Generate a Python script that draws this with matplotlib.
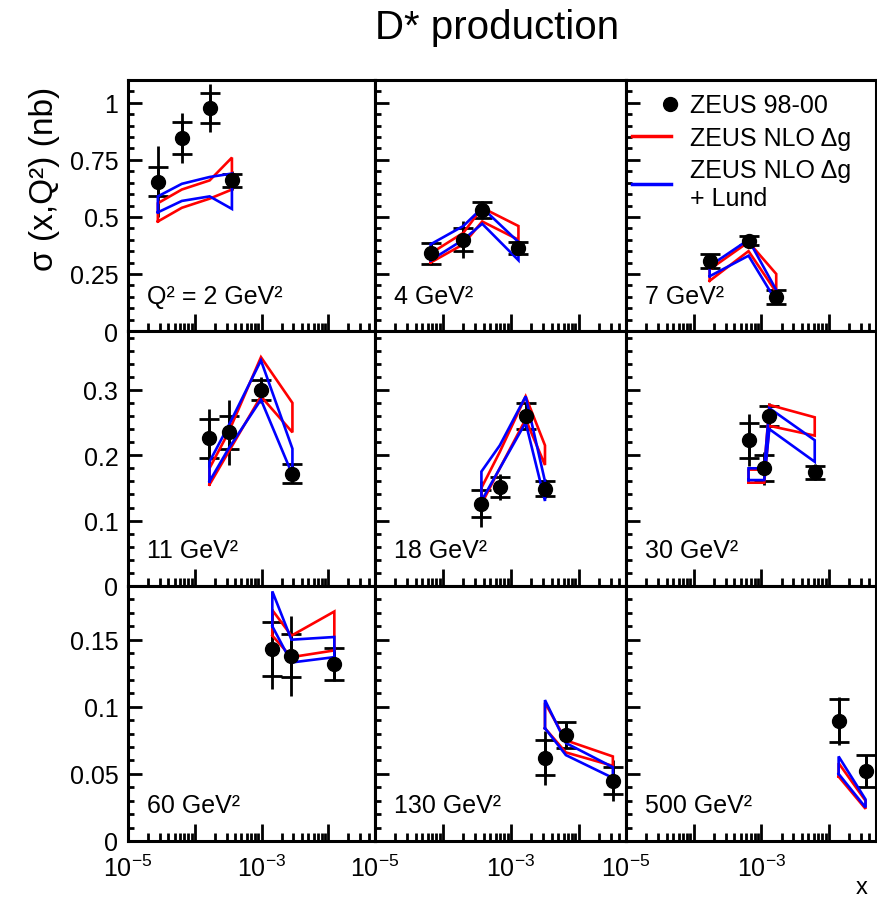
import matplotlib.pyplot as plt
from matplotlib.ticker import FixedLocator, MultipleLocator, FuncFormatter, NullFormatter
from matplotlib.lines import Line2D
from matplotlib.markers import MarkerStyle
from matplotlib.transforms import Affine2D

plt.rcParams['font.family'] = ['Liberation Sans', 'DejaVu Sans']
plt.rcParams['mathtext.fontset'] = 'custom'
plt.rcParams['mathtext.rm'] = 'Liberation Sans'
plt.rcParams['mathtext.it'] = 'Liberation Sans:italic'

# one entry per Q^2 bin
q2_labels = ['Q² = 2 GeV²', '4 GeV²', '7 GeV²',
             '11 GeV²', '18 GeV²', '30 GeV²',
             '60 GeV²', '130 GeV²', '500 GeV²']

x_vals = [[2.8e-5, 6.4e-5, 1.67e-4, 3.6e-4],
          [6.6e-5, 2.0e-4, 3.8e-4, 1.3e-3],
          [1.73e-4, 6.5e-4, 1.67e-3],
          [1.66e-4, 3.2e-4, 9.8e-4, 2.9e-3],
          [3.7e-4, 6.9e-4, 1.66e-3, 3.2e-3],
          [6.5e-4, 1.11e-3, 1.32e-3, 6.2e-3],
          [1.45e-3, 2.8e-3, 1.23e-2],
          [3.2e-3, 6.5e-3, 3.2e-2],
          [1.4e-2, 3.5e-2]]

sigma = [[0.655, 0.846, 0.978, 0.66],
         [0.34, 0.40, 0.53, 0.364],
         [0.307, 0.395, 0.149],
         [0.226, 0.235, 0.30, 0.172],
         [0.126, 0.151, 0.26, 0.149],
         [0.223, 0.18, 0.26, 0.174],
         [0.143, 0.138, 0.132],
         [0.062, 0.079, 0.045],
         [0.0895, 0.052]]

stat_err = [[0.065, 0.07, 0.065, 0.03],
            [0.045, 0.05, 0.035, 0.025],
            [0.03, 0.02, 0.03],
            [0.03, 0.025, 0.015, 0.015],
            [0.021, 0.015, 0.02, 0.012],
            [0.027, 0.02, 0.015, 0.01],
            [0.02, 0.016, 0.012],
            [0.013, 0.01, 0.01],
            [0.016, 0.012]]

tot_err = [[0.155, 0.11, 0.105, 0.04],
           [0.05, 0.08, 0.04, 0.025],
           [0.03, 0.02, 0.03],
           [0.045, 0.05, 0.02, 0.015],
           [0.035, 0.02, 0.02, 0.015],
           [0.04, 0.025, 0.02, 0.012],
           [0.03, 0.03, 0.013],
           [0.02, 0.01, 0.015],
           [0.018, 0.012]]

# ZEUS NLO band (lower / upper edge at each data x)
nlo_lo = [[0.48, 0.54, 0.58, 0.62],
          [0.30, 0.38, 0.48, 0.40],
          [0.22, 0.35, 0.17],
          [0.155, 0.205, 0.29, 0.235],
          [0.125, 0.18, 0.255, 0.185],
          [0.158, 0.158, 0.245, 0.23],
          [0.153, 0.137, 0.142],
          [0.084, 0.066, 0.056],
          [0.048, 0.024]]
nlo_hi = [[0.56, 0.62, 0.66, 0.76],
          [0.34, 0.43, 0.54, 0.46],
          [0.27, 0.39, 0.25],
          [0.18, 0.235, 0.35, 0.28],
          [0.15, 0.205, 0.29, 0.215],
          [0.178, 0.178, 0.277, 0.258],
          [0.172, 0.153, 0.171],
          [0.103, 0.075, 0.063],
          [0.058, 0.030]]

# ZEUS NLO + Lund band
lund_lo = [[0.52, 0.57, 0.59, 0.535],
           [0.31, 0.40, 0.47, 0.31],
           [0.24, 0.33, 0.13],
           [0.16, 0.21, 0.285, 0.17],
           [0.13, 0.18, 0.25, 0.13],
           [0.162, 0.162, 0.24, 0.19],
           [0.16, 0.133, 0.137],
           [0.084, 0.064, 0.047],
           [0.050, 0.025]]
lund_hi = [[0.59, 0.645, 0.675, 0.69],
           [0.38, 0.46, 0.54, 0.39],
           [0.285, 0.40, 0.18],
           [0.19, 0.245, 0.345, 0.21],
           [0.175, 0.215, 0.29, 0.16],
           [0.18, 0.18, 0.272, 0.223],
           [0.186, 0.15, 0.152],
           [0.105, 0.073, 0.055],
           [0.063, 0.031]]

row_ymax = [1.1, 0.39, 0.19]
row_major = [0.25, 0.1, 0.05]
row_minor = [0.05, 0.02, 0.01]

W, H = 877, 903
fig = plt.figure(figsize=(W / 100, H / 100), dpi=100)

col_edges = [128, 375, 626, 876]
row_edges = [81, 332, 587, 842]


def band(ax, xs, lo, hi, color):
    # closed outline: along the lower edge and back along the upper one
    bx = list(xs) + list(xs[::-1]) + [xs[0]]
    by = list(lo) + list(hi[::-1]) + [lo[0]]
    ax.plot(bx, by, color=color, lw=1.9, solid_joinstyle='miter')


for i in range(9):
    r, c = divmod(i, 3)
    left, right = col_edges[c], col_edges[c + 1]
    top, bot = row_edges[r], row_edges[r + 1]
    ax = fig.add_axes([left / W, 1 - bot / H, (right - left) / W, (bot - top) / H])

    ax.errorbar(x_vals[i], sigma[i], yerr=tot_err[i], fmt='o', color='black',
                ms=10, elinewidth=2, capsize=0, zorder=2)
    ax.errorbar(x_vals[i], sigma[i], yerr=stat_err[i], fmt='none', ecolor='black',
                elinewidth=2, capsize=7, capthick=2, zorder=2)
    band(ax, x_vals[i], nlo_lo[i], nlo_hi[i], '#ff0000')
    band(ax, x_vals[i], lund_lo[i], lund_hi[i], '#0000ff')

    ax.set_xscale('log')
    ax.set_xlim(1e-5, 0.05)
    ax.set_ylim(0, row_ymax[r])

    ax.xaxis.set_major_locator(FixedLocator([1e-5, 1e-4, 1e-3, 1e-2]))
    ax.xaxis.set_minor_locator(FixedLocator(
        [m * 10.0 ** e for e in range(-5, -1) for m in range(2, 10)]))
    ax.xaxis.set_major_formatter(FuncFormatter(
        lambda v, p: {1e-5: r'$10^{-5}$', 1e-3: r'$10^{-3}$'}.get(round(v, 8), '')))
    ax.xaxis.set_minor_formatter(NullFormatter())

    ax.yaxis.set_major_locator(MultipleLocator(row_major[r]))
    ax.yaxis.set_minor_locator(MultipleLocator(row_minor[r]))
    if c == 0:
        ax.yaxis.set_major_formatter(FuncFormatter(lambda v, p: '%g' % round(v, 4)))
    else:
        ax.yaxis.set_major_formatter(NullFormatter())
    if r < 2:
        ax.tick_params(axis='x', labelbottom=False)

    ax.tick_params(axis='both', which='both', direction='in', width=2,
                   top=False, right=False, labelsize=18)
    ax.tick_params(axis='x', which='major', length=12, pad=10)
    ax.tick_params(axis='x', which='minor', length=6)
    ax.tick_params(axis='y', which='major', length=10, pad=7)
    ax.tick_params(axis='y', which='minor', length=4.5)
    for s in ax.spines.values():
        s.set_linewidth(2.2)

    ax.text(0.077, 0.14, q2_labels[i], transform=ax.transAxes,
            fontsize=18, va='center', ha='left')

    if i == 2:
        # data marker sits at the right end of its legend slot
        dot = MarkerStyle('o', transform=Affine2D().translate(1.3, 0))
        handles = [Line2D([], [], ls='none', marker=dot, color='black', ms=10),
                   Line2D([], [], color='#ff0000', lw=2.5),
                   Line2D([], [], color='#0000ff', lw=2.5)]
        ax.legend(handles, ['ZEUS 98-00', 'ZEUS NLO Δg', 'ZEUS NLO Δg\n+ Lund'],
                  loc='upper left', bbox_to_anchor=(0.0, 0.972), frameon=False,
                  fontsize=18, handlelength=1.55, handletextpad=0.75,
                  labelspacing=0.33, borderaxespad=0.0, borderpad=0.25)

fig.text(497 / W, 1 - 28 / H, 'D* production', ha='center', va='center', fontsize=29)
fig.text(45 / W, 1 - 179 / H, 'σ (x,Q²) (nb)', ha='center', va='center',
         rotation=90, fontsize=24)
fig.text(862 / W, 1 - 888 / H, 'x', ha='center', va='center', fontsize=17)

fig.savefig('out.png', dpi=100)
